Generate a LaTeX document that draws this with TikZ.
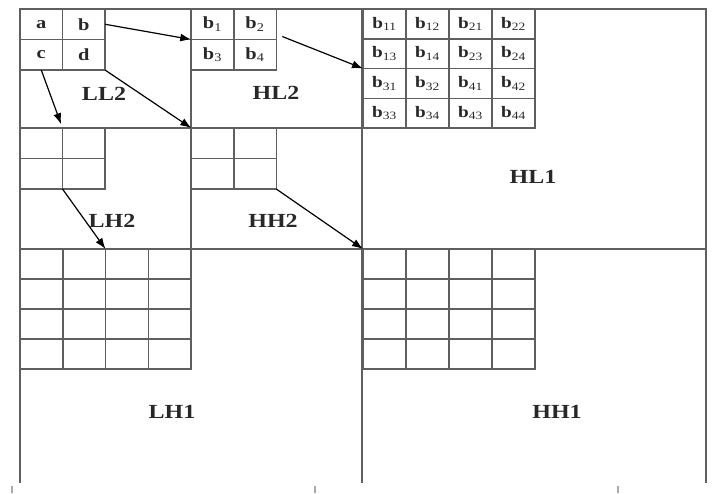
\documentclass[tikz,border=0pt]{standalone}
\usepackage{fontspec}
\setmainfont{Liberation Serif}
\usepackage{xcolor}
\usepackage{tikz}
\usetikzlibrary{arrows.meta, positioning, calc}
\definecolor{GridGray}{RGB}{95, 95, 95}
\definecolor{TextDark}{RGB}{40, 40, 40}
\definecolor{TickGray}{RGB}{170, 170, 170}
\newcommand{\widetxt}[1]{\scalebox{1.2}[1]{#1}}

\tikzset{
  gridline/.style={draw=GridGray, line width=1.5pt},
  cell/.style={gridline, minimum width=42.5pt, minimum height=30.5pt,
    inner sep=0pt, outer sep=0pt, text=TextDark,
    font=\fontsize{17}{19}\selectfont\bfseries},
  subcell/.style={cell, minimum width=43pt, minimum height=29.75pt,
    font=\fontsize{16}{18}\selectfont\bfseries},
  band/.style={text=TextDark, font=\fontsize{20}{22}\selectfont\bfseries},
  flow/.style={-{Latex[length=11pt,width=8pt]}, line width=1.2pt, black},
  bottomtick/.style={draw=TickGray, line width=1.2pt}
}

\begin{document}
\begin{tikzpicture}[x=1pt, y=-1pt]
    \useasboundingbox (0,0) rectangle (723,493);

    \draw[gridline] (20,483) -- (20,9) -- (706,9) -- (706,483);
    \draw[gridline] (362,9) -- (362,483);
    \draw[gridline] (191,9) -- (191,249);
    \draw[gridline] (20,128) -- (362,128);
    \draw[gridline] (20,249) -- (706,249);

    \node[cell] (a) at (41.25,24.25) {\widetxt{a}};
    \node[cell] (b) [right=0pt of a] {\widetxt{b}};
    \node[cell] (c) [below=0pt of a] {\widetxt{c}};
    \node[cell] (d) [right=0pt of c] {\widetxt{d}};

    \node[cell] (b1) at (212.5,24.25) {\widetxt{b\textsubscript{\mdseries 1}}};
    \node[cell] (b2) [right=0pt of b1] {\widetxt{b\textsubscript{\mdseries 2}}};
    \node[cell] (b3) [below=0pt of b1] {\widetxt{b\textsubscript{\mdseries 3}}};
    \node[cell] (b4) [right=0pt of b3] {\widetxt{b\textsubscript{\mdseries 4}}};

    \foreach \lbl [count=\i from 0] in {11,12,21,22,13,14,23,24,31,32,41,42,33,34,43,44} {
      \pgfmathsetmacro\cx{384.5+43*mod(\i,4)}
      \pgfmathsetmacro\cy{23.875+29.75*floor(\i/4)}
      \node[subcell] (b\lbl) at (\cx,\cy) {\widetxt{b\textsubscript{\mdseries\lbl}}};
    }

    \foreach \i in {0,1}
      \foreach \j in {0,1} {
        \node[cell] (lh2-\i\j) at (41.25+42.5*\i,143.25+30.5*\j) {};
        \node[cell] (hh2-\i\j) at (212.5+42.5*\i,143.25+30.5*\j) {};
      }

    \foreach \i in {0,...,3}
      \foreach \j in {0,...,3} {
        \node[cell, minimum width=42.75pt, minimum height=30pt] (lh1-\i\j) at (41.375+42.75*\i,264+30*\j) {};
        \node[subcell, minimum height=30pt] (hh1-\i\j) at (384.5+43*\i,264+30*\j) {};
      }

    \node[band] (ll2) at (104,94) {\widetxt{LL2}};
    \node[band] (hl2) at (276,93) {\widetxt{HL2}};
    \node[band] (lh2) at (112,221) {\widetxt{LH2}};
    \node[band] (hh2) at (273,221) {\widetxt{HH2}};
    \node[band] (hl1) at (533,177) {\widetxt{HL1}};
    \node[band] (lh1) at (172,412) {\widetxt{LH1}};
    \node[band] (hh1) at (557,412) {\widetxt{HH1}};

    \draw[flow] (b.east) -- (b1.south west);
    \draw[flow] ([shift={(6,-3)}]b2.south east) -- (b13.south west);
    \draw[flow] (d.south east) -- (hh2-00.north west);
    \draw[flow, shorten >=4pt] (c.south) -- (lh2-00.north east);
    \draw[flow] (lh2-01.south east) -- (lh1-20.north west);
    \draw[flow] (hh2-11.south east) -- (hh1-00.north west);

    \draw[bottomtick] (12,486) -- (12,493);
    \draw[bottomtick] (315,486) -- (315,493);
    \draw[bottomtick] (618,486) -- (618,493);
\end{tikzpicture}
\end{document}
